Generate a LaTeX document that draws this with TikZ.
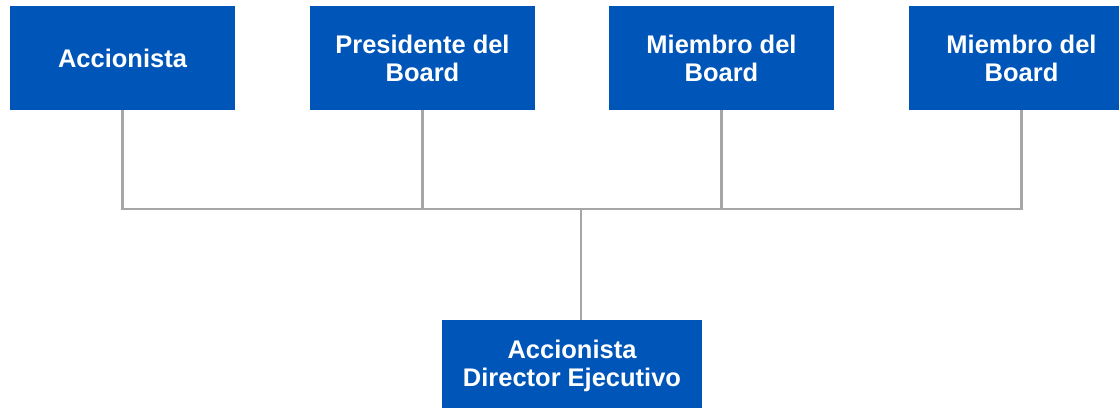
\documentclass[tikz,border=0pt]{standalone}
\usepackage{fontspec}
\setmainfont{Liberation Sans}
\usepackage{tikz}
\usetikzlibrary{positioning}
\definecolor{boardblue}{HTML}{0055B8}
\definecolor{lineagris}{HTML}{A6A6A6}

\begin{document}
\begin{tikzpicture}[
    font=\fontsize{14.5}{16}\selectfont\bfseries,
    caja/.style={rectangle, draw=none, fill=boardblue, text=white,
      minimum width=4.5cm, minimum height=2.08cm, align=center,
      inner sep=2pt},
    lien/.style={-, draw=lineagris, line width=1.4pt}
  ]
    \useasboundingbox (0,0) rectangle (22.38,-8.14);

    \node[caja] (acc)  at (2.45,-1.16)  {Accionista};
    \node[caja] (pres) at (8.45,-1.16)  {Presidente del\\Board};
    \node[caja] (mb1)  at (14.43,-1.16) {Miembro del\\Board};
    \node[caja] (mb2)  at (20.43,-1.16) {Miembro del\\Board};

    \node[caja, minimum width=5.2cm, minimum height=1.84cm] (dir) at (11.44,-7.32)
      {Accionista\\Director Ejecutivo};

    \coordinate (barra) at (11.62,-4.18);

    \draw[lien] (acc.south) |- (barra) -| (mb2.south);
    \foreach \m in {pres,mb1} \draw[lien] (\m.south) -- (\m.south |- barra);
    \draw[lien] (barra) -- (barra |- dir.north);
  \end{tikzpicture}
\end{document}
